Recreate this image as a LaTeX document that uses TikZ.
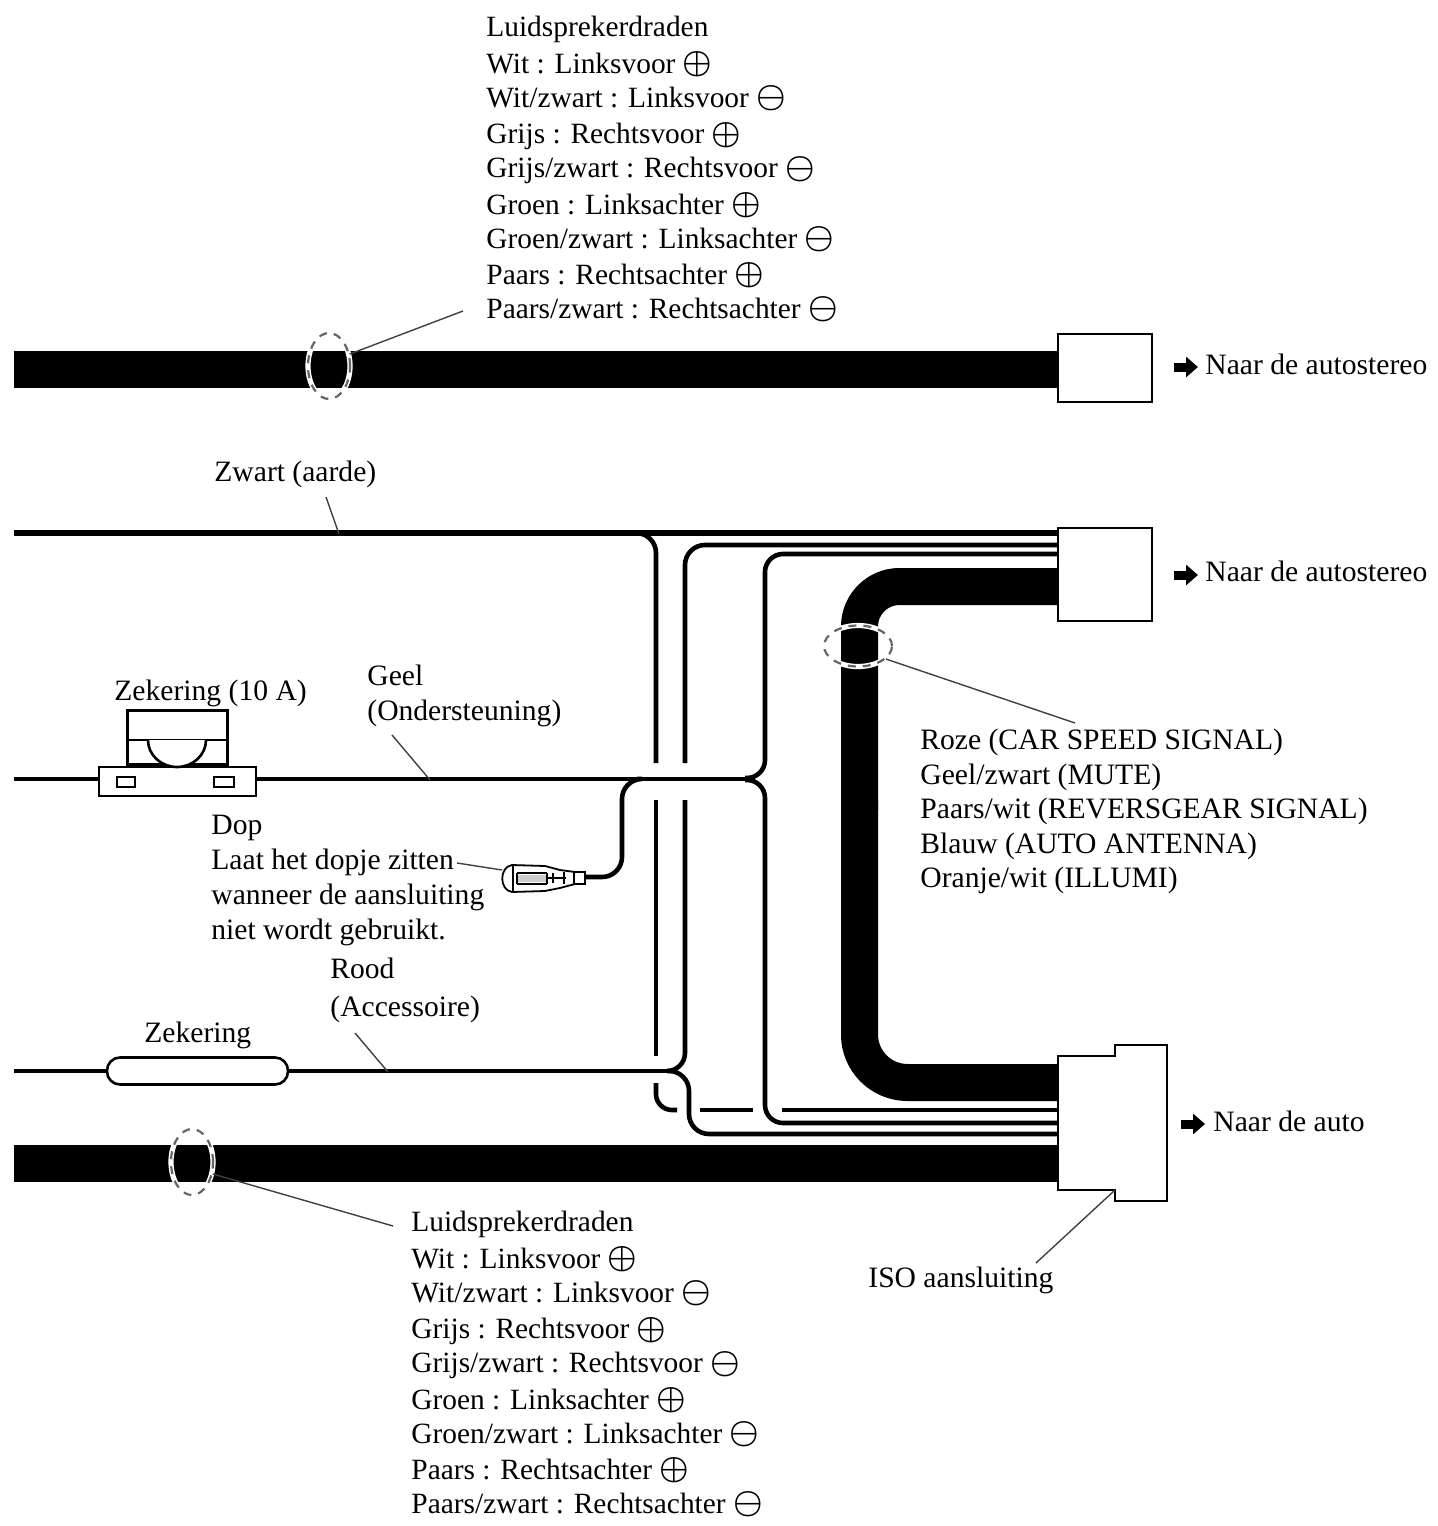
\documentclass[tikz,border=0pt]{standalone}
\usepackage{graphicx}
\usepackage{fontspec}
\setmainfont{Liberation Serif}
\usetikzlibrary{arrows.meta,positioning,shapes.geometric}
\newcommand{\plusmark}{\raisebox{.3pt}{\scalebox{1.15}{\boldmath$\oplus$}}}
\newcommand{\minusmark}{\raisebox{.3pt}{\scalebox{1.15}{\boldmath$\ominus$}}}
\begin{document}
\begin{tikzpicture}[x=.5pt,y=-.5pt,
  txt/.style={inner sep=0pt,anchor=north west,align=left,font=\fontsize{14.8}{17.25}\selectfont},
  oneline/.style={inner sep=0pt,anchor=base west,font=\fontsize{14.8}{17.25}\selectfont},
  cable/.style={fill=black,draw=none,inner sep=0pt,minimum height=18.5pt},
  plugbox/.style={draw,fill=white,line width=1.3pt,inner sep=0pt},
  wire/.style={line width=2.3pt,rounded corners=#1},
  wire/.default=10pt,
  harness/.style={line width=18.5pt,rounded corners=#1},
  leader/.style={line width=.7pt,draw=black!75},
  tie/.style={ellipse,draw=black!60,dash pattern=on 4pt off 3.5pt,line width=1.1pt,inner sep=0pt,
    preaction={draw=white,solid,line width=2.6pt}},
  pointer/.style={line width=4.5pt,-{Triangle[length=6pt,width=10pt]}}]
  \useasboundingbox (0,0) rectangle (1437,1526);

  \node[cable,minimum width=522pt] (speakerTop) at (536,369.5) {};
  \node[cable,minimum width=522pt] (speakerLow) at (536,1163.5) {};

  \coordinate (gndFree) at (14,533);
  \coordinate (gndEnd) at (1058,533);
  \coordinate (gndTap) at (636,533);
  \coordinate (midEnd) at (1058,545);
  \coordinate (lowEnd) at (1058,554);
  \coordinate (harnTop) at (1058,586.5);
  \coordinate (harnMid) at (859.5,810);
  \coordinate (harnMidB) at (859.5,800);
  \coordinate (harnIso) at (1058,1082.5);
  \coordinate (acFree) at (14,1071);
  \coordinate (battFree) at (14,779);
  \coordinate (battJoin) at (748,779);
  \coordinate (acJoin) at (668,1071);
  \coordinate (isoA) at (1058,1110);
  \coordinate (isoB) at (1058,1123);
  \coordinate (isoC) at (1058,1134);

  \draw[harness=20pt] (harnTop) -| (harnMid);
  \draw[harness=24pt] (harnMidB) |- (harnIso);

  \draw[wire,line width=2.6pt] (gndFree) -- (gndEnd);
  \draw[wire] (gndTap) -| (656,763);
  \draw[wire] (midEnd) -| (685,763);
  \draw[wire=9pt] (lowEnd) -| (765,778) -- (745,778);
  \draw[wire=9pt] (745,780) -| (765,1123) -- (isoB);
  \draw[wire] (656,800) -- (656,1056);
  \draw[wire=9pt] (685,800) |- (acJoin);
  \draw[wire=8pt] (656,1083) |- (677,1110);
  \draw[wire] (700,1110) -- (753,1110);
  \draw[wire] (782,1110) -- (isoA);
  \draw[wire] (acJoin) -| (689,1134) -- (isoC);

  \node[plugbox,minimum width=47pt,minimum height=34pt] (hubTop) at (1105,368) {};
  \node[plugbox,minimum width=47pt,minimum height=46.5pt] (hubMid) at (1105,574.5) {};
  \draw[plugbox] (1058,1056) coordinate (isoTop) -- (1115,1056) -- (1115,1045) -- (1167,1045)
    -- (1167,1201) -- (1115,1201) -- (1115,1190) coordinate (isoNotch) -- (1058,1190) -- cycle;

  \coordinate (fuseInL) at (99,779);
  \coordinate (fuseInR) at (256,779);
  \draw[wire] (battFree) -- (fuseInL);
  \draw[wire] (fuseInR) -- (battJoin);
  \node[plugbox,minimum width=78.5pt,minimum height=14.5pt] (fuseBase) at (177.5,781.5) {};
  \node[plugbox,minimum width=50pt,minimum height=27pt,anchor=south] (fuseCap) at (fuseBase.north) {};
  \draw[plugbox] (127,740) -- (227,740);
  \draw[plugbox] (148,740) arc[start angle=180,end angle=360,x radius=29,y radius=-27];
  \node[plugbox,minimum width=9pt,minimum height=5pt] (slotL) at (126,782) {};
  \node[plugbox,minimum width=10pt,minimum height=5pt] (slotR) at (224,782) {};

  \node[plugbox,rounded corners=6.5pt,minimum width=90.5pt,minimum height=13.5pt] (fuseAc) at (197.5,1071) {};
  \draw[wire] (acFree) -- (fuseAc);
  \draw[wire] (fuseAc) -- (acJoin);

  \coordinate (capTail) at (585,877);
  \coordinate (capTap) at (637,779);
  \draw[wire] (capTap) -| (622,877) -- (capTail);
  \draw[fill=white,line width=.9pt] (512,865) -- (545,866) -- (560,870) -- (575,872) -- (585,872) -- (585,884)
    -- (575,884) -- (560,888) -- (545,891) -- (512,892) .. controls (499,890) and (499,867) .. (512,865) -- cycle;
  \fill[black!20] (518,875) rectangle (546,882);
  \draw[line width=.9pt] (513,866) -- (513,891) (517,873) -- (547,873) (517,884) -- (547,884)
    (517,873) -- (517,884) (547,873) -- (547,884) (547,878) -- (566,878)
    (553,873) -- (553,883) (564,872) -- (564,884) (574,872) -- (574,884);
  \coordinate (capLeft) at (502,870);

  \node[tie,minimum width=21pt,minimum height=33pt] (tieTop) at (329,366) {};
  \node[tie,minimum width=21pt,minimum height=33pt] (tieLow) at (192,1162) {};
  \node[tie,minimum width=34pt,minimum height=20.5pt] (tieMid) at (858,646) {};

  \node[txt,font=\fontsize{14.7}{17}\selectfont] (listTop) at (486,16) {Luidsprekerdraden\\[1.2pt]
    Wit : Linksvoor \plusmark\\
    Wit/zwart : Linksvoor \minusmark\\[1.2pt]
    Grijs : Rechtsvoor \plusmark\\
    Grijs/zwart : Rechtsvoor \minusmark\\[1.2pt]
    Groen : Linksachter \plusmark\\
    Groen/zwart : Linksachter \minusmark\\[1.2pt]
    Paars : Rechtsachter \plusmark\\
    Paars/zwart : Rechtsachter \minusmark};
  \node[txt,font=\fontsize{14.7}{17}\selectfont] (listLow) at (411,1211) {Luidsprekerdraden\\[1.2pt]
    Wit : Linksvoor \plusmark\\
    Wit/zwart : Linksvoor \minusmark\\[1.2pt]
    Grijs : Rechtsvoor \plusmark\\
    Grijs/zwart : Rechtsvoor \minusmark\\[1.2pt]
    Groen : Linksachter \plusmark\\
    Groen/zwart : Linksachter \minusmark\\[1.2pt]
    Paars : Rechtsachter \plusmark\\
    Paars/zwart : Rechtsachter \minusmark};
  \node[txt] (signals) at (920,729) {Roze (CAR SPEED SIGNAL)\\
    Geel/zwart (MUTE)\\
    Paars/wit (REVERSGEAR SIGNAL)\\
    Blauw (AUTO ANTENNA)\\
    Oranje/wit (ILLUMI)};
  \node[txt] (capNote) at (211,815) {Dop\\
    Laat het dopje zitten\\[.5pt]
    wanneer de aansluiting\\
    niet wordt gebruikt.};
  \node[txt] (battText) at (367,665) {Geel\\(Ondersteuning)};
  \node[txt] (acText) at (330,958) {Rood\\[1.3pt](Accessoire)};
  \node[oneline] (gndText) at (214,481) {Zwart (aarde)};
  \node[oneline] (fuseTxtA) at (114,700) {Zekering (10 A)};
  \node[oneline] (fuseTxtB) at (144,1042) {Zekering};
  \node[oneline] (isoText) at (868,1287) {ISO aansluiting};
  \node[oneline] (goTop) at (1205,374) {Naar de autostereo};
  \node[oneline] (goMid) at (1205,581) {Naar de autostereo};
  \node[oneline] (goCar) at (1213,1131) {Naar de auto};

  \coordinate (listTopIn) at (463,311);
  \coordinate (listLowIn) at (393,1226);
  \coordinate (signalsIn) at (1075,723);
  \coordinate (gndIn) at (326,497);
  \coordinate (gndOn) at (339,534);
  \coordinate (battIn) at (392,735);
  \coordinate (battOn) at (430,780);
  \coordinate (acIn) at (355,1033);
  \coordinate (acOn) at (388,1072);
  \coordinate (isoIn) at (1036,1263);
  \coordinate (noteIn) at (457,863);
  \path[leader]
  (tieTop.30) edge (listTopIn)
  (tieLow.-30) edge (listLowIn)
  (tieMid.-25) edge (signalsIn)
  (gndIn) edge (gndOn)
  (battIn) edge (battOn)
  (acIn) edge (acOn)
  (isoIn) edge (isoNotch)
  (noteIn) edge (capLeft);

  \coordinate (goTopA) at (1174,367);
  \coordinate (goTopB) at (1198,367);
  \coordinate (goMidA) at (1174,575);
  \coordinate (goMidB) at (1198,575);
  \coordinate (goCarA) at (1181,1124);
  \coordinate (goCarB) at (1205,1124);
  \draw[pointer] (goTopA) -- (goTopB);
  \draw[pointer] (goMidA) -- (goMidB);
  \draw[pointer] (goCarA) -- (goCarB);
\end{tikzpicture}
\end{document}
